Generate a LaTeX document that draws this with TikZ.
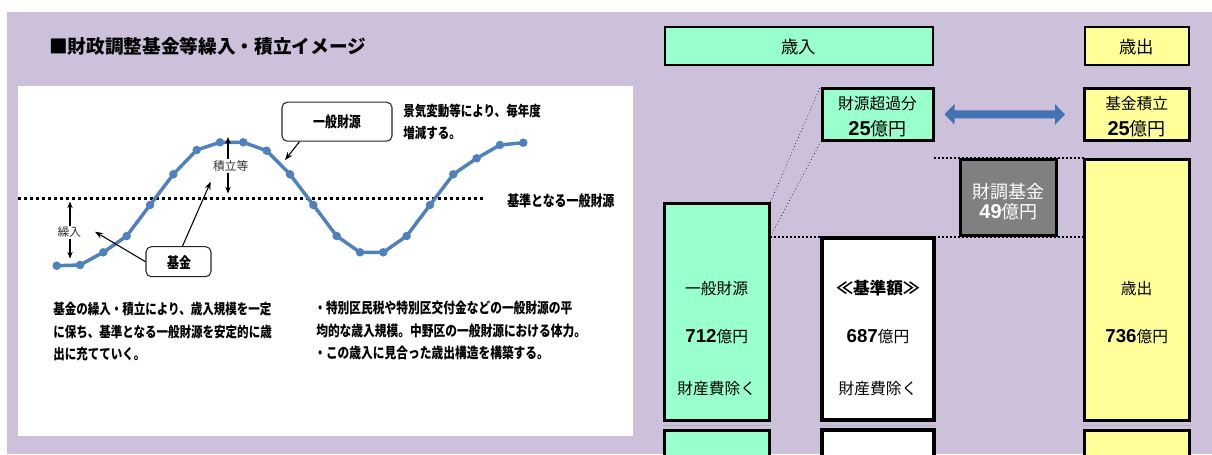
\documentclass[tikz,border=0pt]{standalone}
\usepackage{fontspec}
\newfontfamily\jp{Noto Sans CJK JP}
\newfontfamily\jpc{Noto Sans CJK JP}[FakeStretch=0.8]
\newfontfamily\ar{Liberation Sans}
\usetikzlibrary{arrows.meta}
\definecolor{bgpurple}{RGB}{204,192,218}
\definecolor{boxgreen}{RGB}{153,255,204}
\definecolor{boxyellow}{RGB}{255,255,153}
\definecolor{fundgray}{RGB}{128,128,128}
\definecolor{curveblue}{RGB}{79,129,189}
\definecolor{arrowblue}{RGB}{66,114,176}
\newcommand\mysz[2]{\fontsize{#1}{#2}\selectfont}
\tikzset{
  hdr/.style={draw=black, line width=1.5pt, inner sep=0pt},
  tbox/.style={draw=black, line width=2.25pt, inner sep=0pt},
  lbl/.style={inner sep=0pt},
  boldtxt/.style={inner sep=0pt, font=\jpc\bfseries\mysz{10.8}{13}},
  boxtxt/.style={inner sep=0pt, font=\jp\mysz{11.8}{14}},
  callout/.style={draw=black!85, line width=0.8pt, rounded corners=4pt, fill=white, inner sep=0pt},
  calloutarrow/.style={draw=black, line width=0.8pt, -{Stealth[length=6pt,width=4.5pt]}},
  gaparrow/.style={draw=black, line width=1.1pt, -{Stealth[length=5pt,width=4pt]}},
  smalltxt/.style={inner sep=0pt, text=black!80, font=\jp\mysz{8.8}{10}},
  baseline/.style={draw=black, line width=2.25pt, dash pattern=on 2.25pt off 2.25pt},
  thickdots/.style={draw=black, line width=1.5pt, dash pattern=on 1.5pt off 1.5pt},
  thindots/.style={draw=black, line width=0.5pt, dotted},
  curve/.style={draw=curveblue, line width=2.6pt, line join=round},
  blockarrow/.style={draw=arrowblue, line width=6pt, {Triangle[length=7.5pt,width=15pt]}-{Triangle[length=7.5pt,width=15pt]}},
}
\begin{document}
\begin{tikzpicture}[x=0.75pt,y=-0.75pt]
\useasboundingbox (0,0) rectangle (1212,454);
\clip (0,0) rectangle (1212,454);
\fill[white] (0,0) rectangle (1212,454);
\fill[bgpurple] (7,12) rectangle (1212,454);
% white chart panel
\fill[white] (18,86) rectangle (633,436);

% title
\node[lbl, anchor=west, font=\jp\bfseries\mysz{14}{16}] (title) at (49,46.7) {■財政調整基金等繰入・積立イメージ};

% reference line
\coordinate (bl0) at (18,198);
\coordinate (bl1) at (484,198);
\draw[baseline] (bl0) -- (bl1);
\node[boldtxt, anchor=west, font=\jpc\bfseries\mysz{11.2}{13}] (basetxt) at (507,201) {基準となる一般財源};

% curve
\foreach \i/\yy in {1/265.7,2/265,3/252.3,4/236,5/205,6/174.3,7/150,8/142.3,9/142.3,10/150.7,11/174.3,12/205,13/236,14/252.3,15/252.3,16/236,17/205,18/174.3,19/158.3,20/145,21/142.7}
  \coordinate (p\i) at ({56.7+23.33*(\i-1)},\yy);
\draw[curve] (p1) \foreach \i in {2,...,21}{ -- (p\i)};
\foreach \i in {1,...,21} \fill[curveblue] (p\i) circle[radius=3.2pt];

% gap arrows
\node[smalltxt] (tsumitate) at (230.7,166) {積立等};
\coordinate (ta1) at (228,137);
\coordinate (ta2) at (228,193.5);
\draw[gaparrow] (tsumitate.north -| ta1) ++(0,-1) -- (ta1);
\draw[gaparrow] (tsumitate.south -| ta2) ++(0,1) -- (ta2);
\node[smalltxt] (kurire) at (69.3,232.3) {繰入};
\coordinate (ka1) at (70,201.5);
\coordinate (ka2) at (70,258.5);
\draw[gaparrow] (kurire.north -| ka1) ++(0,-1) -- (ka1);
\draw[gaparrow] (kurire.south -| ka2) ++(0,1) -- (ka2);

% callouts
\node[callout, minimum width=110*0.75pt, minimum height=39*0.75pt] (genbox) at (337,121.7) {};
\node[lbl, font=\jpc\bfseries\mysz{11.2}{13}] (gentxt) at (337,122.3) {一般財源};
\coordinate (genpt) at (285,160);
\draw[calloutarrow] (genbox.south west) ++(18,0) -- (genpt);

\node[callout, minimum width=65*0.75pt, minimum height=30*0.75pt] (kikinbox) at (178.5,261.7) {};
\node[lbl, font=\jpc\bfseries\mysz{11.2}{13}] (kikintxt) at (179,262.3) {基金};
\coordinate (kpt1) at (210.7,181.7);
\coordinate (kpt2) at (95,231.7);
\draw[calloutarrow] (kikinbox.north) ++(4,0) -- (kpt1);
\draw[calloutarrow] (kikinbox.west) -- (kpt2);

\node[boldtxt, anchor=west] (note1) at (403,110.7) {景気変動等により、毎年度};
\node[boldtxt, anchor=west] (note2) at (403,132.7) {増減する。};

% paragraphs
\node[boldtxt, anchor=west] (lp1) at (53,309.5) {基金の繰入・積立により、歳入規模を一定};
\node[boldtxt, anchor=west] (lp2) at (53,332) {に保ち、基準となる一般財源を安定的に歳};
\node[boldtxt, anchor=west] (lp3) at (53,354.5) {出に充てていく。};
\node[boldtxt, anchor=west, font=\jpc\bfseries\mysz{11}{13}] (rp1) at (314,307.7) {・特別区民税や特別区交付金などの一般財源の平};
\node[boldtxt, anchor=west, font=\jpc\bfseries\mysz{11}{13}] (rp2) at (316,331) {均的な歳入規模。中野区の一般財源における体力。};
\node[boldtxt, anchor=west, font=\jpc\bfseries\mysz{11}{13}] (rp3) at (314,353.3) {・この歳入に見合った歳出構造を構築する。};

% ===== right side =====
\node[hdr, fill=boxgreen, minimum width=268.5*0.75pt, minimum height=38*0.75pt] (revhdr) at (798.75,46) {};
\node[lbl, font=\jp\mysz{13}{15}] (revhdrtxt) at (798.5,46.7) {歳入};
\node[hdr, fill=boxyellow, minimum width=104.5*0.75pt, minimum height=38*0.75pt] (exphdr) at (1136.75,46) {};
\node[lbl, font=\jp\mysz{13}{15}] (exphdrtxt) at (1136.7,47.3) {歳出};

% dotted guide lines (behind boxes)
\coordinate (d1a) at (934,157.5);
\coordinate (d1b) at (1084,157.5);
\draw[thickdots] (d1a) -- (d1b);
\coordinate (d2a) at (770,237);
\coordinate (d2b) at (1084,237);
\draw[thickdots] (d2a) -- (d2b);

% boxes
\node[tbox, fill=boxgreen, minimum width=111*0.75pt, minimum height=52.5*0.75pt] (excess) at (877.5,114.25) {};
\node[tbox, fill=boxyellow, minimum width=104.5*0.75pt, minimum height=52*0.75pt] (fundin) at (1136.75,114.5) {};
\node[tbox, fill=fundgray, minimum width=96*0.75pt, minimum height=76*0.75pt] (fund) at (1008.5,197) {};
\node[tbox, fill=boxgreen, minimum width=104.5*0.75pt, minimum height=217*0.75pt] (genrev) at (716.75,312) {};
\node[tbox, line width=2.6pt, fill=white, minimum width=112*0.75pt, minimum height=182*0.75pt] (std) at (878,329) {};
\node[tbox, fill=boxyellow, minimum width=104.5*0.75pt, minimum height=261.5*0.75pt] (exp) at (1136.75,289.75) {};

% bottom partial boxes
\node[tbox, fill=boxgreen, minimum width=104.5*0.75pt, minimum height=40*0.75pt] (genrev2) at (716.75,450) {};
\node[tbox, line width=2.6pt, fill=white, minimum width=112*0.75pt, minimum height=40*0.75pt] (std2) at (878,450) {};
\node[tbox, fill=boxyellow, minimum width=104.5*0.75pt, minimum height=40*0.75pt] (exp2) at (1136.75,450) {};
\draw[black!30, line width=0.8pt] ([yshift=2pt]genrev2.north west) -- ([yshift=2pt]genrev2.north east);
\draw[black!30, line width=0.8pt] ([yshift=2pt]std2.north west) -- ([yshift=2pt]std2.north east);
\draw[black!30, line width=0.8pt] ([yshift=2pt]exp2.north west) -- ([yshift=2pt]exp2.north east);

% thin dotted diagonals
\draw[thindots] (genrev.north east) -- (excess.north west);
\draw[thindots] (genrev.east |- std.north) -- (excess.south west);

% double arrow
\draw[blockarrow] ([xshift=7.5pt]excess.east) -- ([xshift=-13.5pt]fundin.west);

% box texts
\node[boxtxt] (excesst1) at (877.5,103.3) {財源超過分};
\node[lbl] (excesst2) at (877.5,128.3) {{\ar\bfseries\mysz{15}{18}25}{\jp\mysz{13.5}{15}億円}};
\node[boxtxt] (fundint1) at (1136.7,103.3) {基金積立};
\node[lbl] (fundint2) at (1136.7,128.3) {{\ar\bfseries\mysz{15}{18}25}{\jp\mysz{13.5}{15}億円}};
\node[lbl, text=white, font=\jp\mysz{13.5}{16}] (fundt1) at (1008.5,191.7) {財調基金};
\node[lbl, text=white] (fundt2) at (1008.5,211.7) {{\ar\bfseries\mysz{15}{18}49}{\jp\mysz{13.5}{15}億円}};

\node[boxtxt] (genrevt1) at (716.7,288.3) {一般財源};
\node[lbl] (genrevt2) at (716.7,336.7) {{\ar\bfseries\mysz{14}{17}712}{\jp\mysz{11.8}{14}億円}};
\node[boxtxt] (genrevt3) at (716.7,388.3) {財産費除く};
\node[lbl, font=\jp\bfseries\mysz{12.5}{14}] (stdt1) at (878,288.3) {≪基準額≫};
\node[lbl] (stdt2) at (878,336.7) {{\ar\bfseries\mysz{14}{17}687}{\jp\mysz{11.8}{14}億円}};
\node[boxtxt] (stdt3) at (878,388.3) {財産費除く};
\node[boxtxt] (expt1) at (1136.7,288.3) {歳出};
\node[lbl] (expt2) at (1136.7,336.7) {{\ar\bfseries\mysz{14}{17}736}{\jp\mysz{11.8}{14}億円}};
\end{tikzpicture}
\end{document}
